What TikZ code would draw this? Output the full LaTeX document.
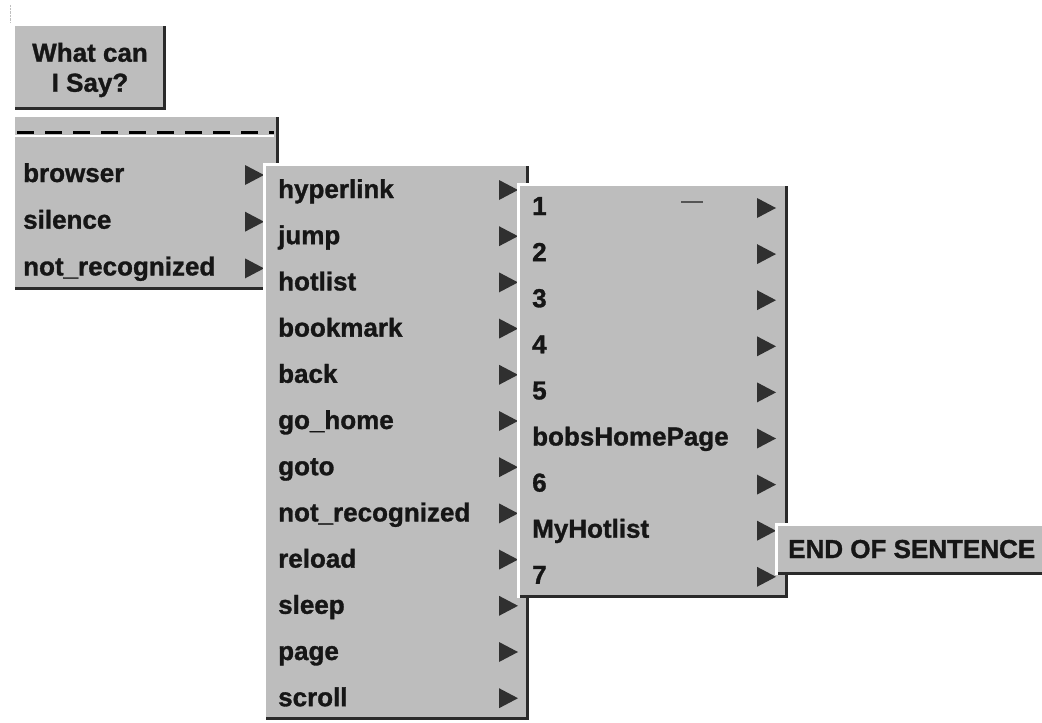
\documentclass[tikz,border=0pt]{standalone}
\usepackage{fontspec}
\setmainfont{Liberation Sans}[BoldFeatures={FakeBold=1.2}]
\definecolor{panel}{HTML}{BDBDBD}
\definecolor{ink}{HTML}{161616}
\definecolor{shade}{HTML}{2A2A2A}
\definecolor{tri}{HTML}{303030}
\begin{document}
\begin{tikzpicture}[x=1pt,y=-1pt,
  menubox/.style={fill=panel, draw=none, inner sep=0pt, outer sep=0pt, anchor=north west},
  hilite/.style={draw=white, line width=3pt},
  shadow/.style={draw=shade, line width=3pt},
  item/.style={anchor=base west, inner sep=0pt, text=ink,
    font=\fontsize{26}{30}\selectfont\bfseries},
  subarrow/.style={fill=tri}]
\useasboundingbox (0,0) rectangle (1042,723);
\fill[white] (0,0) rectangle (1042,723);
\draw[gray!50, densely dotted] (10,5) -- (10,22);

% "What can I Say?" button
\node[menubox, minimum width=151pt, minimum height=84pt] (ask) at (15,26) {};
\draw[shadow] ([xshift=-1.5pt]ask.north east) -- ([xshift=-1.5pt,yshift=1.5pt]ask.south east) -- ([yshift=1.5pt]ask.south west);
\node[item, anchor=center, align=center, font=\fontsize{26}{30}\selectfont\bfseries] (asktext) at (90,70) {What can\\I Say?};

% top-level menu
\node[menubox, minimum width=264pt, minimum height=173pt] (top) at (15,117) {};
\draw[shadow] ([xshift=-1.5pt]top.north east) -- ([xshift=-1.5pt,yshift=1.5pt]top.south east) -- ([yshift=1.5pt]top.south west);
\draw[white, line width=2pt] (15,135.5) -- (274,135.5);
\draw[black, line width=3pt, dash pattern=on 17pt off 11pt] (17,132.5) -- (274,132.5);
\foreach \t [count=\i] in {browser,silence,not\_recognized} {
  \pgfmathsetmacro{\yb}{182+46.7*(\i-1)}
  \node[item] (top-\i) at (23,\yb) {\t};
  \fill[subarrow, shift={(254,\yb-7)}] (-9,-10) -- (10,0) -- (-9,10) -- cycle;
}

% browser submenu
\node[menubox, minimum width=266pt, minimum height=557pt] (browse) at (263,163) {};
\draw[hilite] ([xshift=1.5pt]browse.south west) -- ([xshift=1.5pt,yshift=-1.5pt]browse.north west) -- ([yshift=-1.5pt]browse.north east);
\draw[shadow] ([xshift=-1.5pt,yshift=-3pt]browse.north east) -- ([xshift=-1.5pt,yshift=1.5pt]browse.south east) -- ([xshift=3pt,yshift=1.5pt]browse.south west);
\foreach \t [count=\i] in {hyperlink,jump,hotlist,bookmark,back,go\_home,goto,not\_recognized,reload,sleep,page,scroll} {
  \pgfmathsetmacro{\yb}{198+46.2*(\i-1)}
  \node[item] (browse-\i) at (278,\yb) {\t};
  \fill[subarrow, shift={(508,\yb-8)}] (-9,-10) -- (10,0) -- (-9,10) -- cycle;
}

% hyperlink submenu
\node[menubox, minimum width=271pt, minimum height=415pt] (link) at (517,183) {};
\draw[hilite] ([xshift=1.5pt]link.south west) -- ([xshift=1.5pt,yshift=-1.5pt]link.north west) -- ([yshift=-1.5pt]link.north east);
\draw[shadow] ([xshift=-1.5pt,yshift=-3pt]link.north east) -- ([xshift=-1.5pt,yshift=1.5pt]link.south east) -- ([xshift=3pt,yshift=1.5pt]link.south west);
\draw[shade!80, line width=1.5pt] (681,202) -- (703,202);
\foreach \t [count=\i] in {1,2,3,4,5,bobsHomePage,6,MyHotlist,7} {
  \pgfmathsetmacro{\yb}{215+46.1*(\i-1)}
  \node[item] (link-\i) at (532,\yb) {\t};
  \fill[subarrow, shift={(766,\yb-7)}] (-9,-10) -- (10,0) -- (-9,10) -- cycle;
}

% MyHotlist submenu
\node[menubox, minimum width=275pt, minimum height=52pt] (hot) at (775,523) {};
\draw[hilite] ([xshift=1.5pt]hot.south west) -- ([xshift=1.5pt,yshift=-1.5pt]hot.north west) -- ([yshift=-1.5pt]hot.north east);
\draw[shadow] ([xshift=3pt,yshift=1.5pt]hot.south west) -- ([yshift=1.5pt]hot.south east);
\node[item] (hot-1) at (788,558) {END OF SENTENCE};
\end{tikzpicture}
\end{document}
